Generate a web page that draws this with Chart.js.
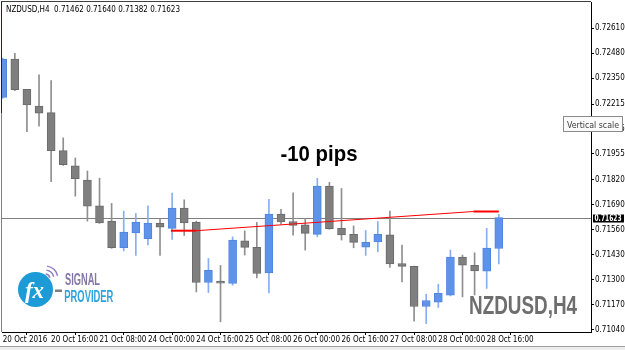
<!DOCTYPE html>
<html>
<head>
<meta charset="utf-8">
<script src="https://cdn.jsdelivr.net/npm/chart.js@4.4.0/dist/chart.umd.min.js"></script>
<style>
  html, body { margin: 0; padding: 0; background: #fff; }
  #wrap { width: 625px; height: 350px; }
</style>
</head>
<body>
<div id="wrap"><canvas id="chart" width="625" height="350"></canvas></div>
<script>
// NZDUSD H4 candles, 20 Oct 2016 00:00 .. 28 Oct 2016 20:00
const opens = [0.72250, 0.72450, 0.72292, 0.72205, 0.72170, 0.71972, 0.71893, 0.71819, 0.71685, 0.71605,
  0.71466, 0.71544, 0.71513, 0.71594, 0.71567, 0.71673, 0.71598, 0.71285, 0.71292, 0.71280,
  0.71502, 0.71468, 0.71335, 0.71641, 0.71603, 0.71586, 0.71536, 0.71787, 0.71567, 0.71536,
  0.71469, 0.71497, 0.71533, 0.71384, 0.71369, 0.71160, 0.71182, 0.71219, 0.71417, 0.71375,
  0.71344, 0.71462];
const highs = [0.72455, 0.72480, 0.72292, 0.72368, 0.72337, 0.72039, 0.71934, 0.71866, 0.71829, 0.71697,
  0.71657, 0.71645, 0.71685, 0.71615, 0.71751, 0.71716, 0.71605, 0.71410, 0.71374, 0.71523,
  0.71554, 0.71598, 0.71718, 0.71667, 0.71752, 0.71619, 0.71828, 0.71807, 0.71775, 0.71580,
  0.71556, 0.71603, 0.71657, 0.71480, 0.71370, 0.71224, 0.71276, 0.71454, 0.71428, 0.71440,
  0.71567, 0.71640];
const lows = [0.72245, 0.72285, 0.72071, 0.72100, 0.71810, 0.71895, 0.71735, 0.71605, 0.71593, 0.71463,
  0.71450, 0.71426, 0.71481, 0.71426, 0.71509, 0.71530, 0.71236, 0.71233, 0.71080, 0.71271,
  0.71428, 0.71309, 0.71231, 0.71589, 0.71532, 0.71454, 0.71523, 0.71562, 0.71506, 0.71466,
  0.71426, 0.71445, 0.71363, 0.71288, 0.71083, 0.71071, 0.71155, 0.71215, 0.71210, 0.71220,
  0.71254, 0.71382];
const closes = [0.72450, 0.72290, 0.72210, 0.72167, 0.71972, 0.71899, 0.71826, 0.71683, 0.71596, 0.71466,
  0.71548, 0.71598, 0.71594, 0.71574, 0.71673, 0.71596, 0.71285, 0.71349, 0.71281, 0.71506,
  0.71468, 0.71332, 0.71641, 0.71601, 0.71582, 0.71541, 0.71787, 0.71565, 0.71533, 0.71494,
  0.71495, 0.71536, 0.71382, 0.71369, 0.71160, 0.71191, 0.71228, 0.71417, 0.71375, 0.71346,
  0.71464, 0.71623];

// time axis labels, one every 4 bars
const timeLabels = ['20 Oct 2016', '20 Oct 16:00', '21 Oct 08:00', '24 Oct 00:00', '24 Oct 16:00',
  '25 Oct 08:00', '26 Oct 00:00', '26 Oct 16:00', '27 Oct 08:00', '28 Oct 00:00', '28 Oct 16:00'];
const priceTicks = [0.72610, 0.72480, 0.72350, 0.72215, 0.72085, 0.71955, 0.71820, 0.71690,
  0.71560, 0.71430, 0.71300, 0.71170, 0.71040];

// trade: entry / exit marks and the line between them
const entryBars = [13.9, 16];
const exitBars = [38.9, 41];
const entryPrice = 0.71555;
const exitPrice = 0.71655;
const bidPrice = 0.71623;

const smallFont = "'Liberation Sans Narrow', 'DejaVu Sans Condensed', 'Liberation Sans', sans-serif";

const isUp = opens.map((o, i) => closes[i] >= o);
const bodyData = opens.map((o, i) => ({ x: i, y: [o, closes[i]] }));
const wickData = lows.map((l, i) => ({ x: i, y: [l, highs[i]] }));

function fitText(ctx, text, x, y, font, color, w) {
    ctx.save();
    ctx.font = font;
    const m = ctx.measureText(text).width;
    ctx.translate(x, y);
    ctx.scale(w / m, 1);
    ctx.fillStyle = color;
    ctx.fillText(text, 0, 0);
    ctx.restore();
}

const overlayPlugin = {
    id: 'overlay',
    beforeDraw(chart) {
        const { ctx, width, height } = chart;
        ctx.save();
        ctx.fillStyle = '#fff';
        ctx.fillRect(0, 0, width, height);
        ctx.fillStyle = '#ececec';
        ctx.fillRect(0, 347, width, 3);
        ctx.fillStyle = '#a0a0a0';
        ctx.fillRect(0, 346, width, 1);
        ctx.restore();
    },
    beforeDatasetsDraw(chart) {
        const { ctx, chartArea: a, scales: { y } } = chart;
        const py = Math.round(y.getPixelForValue(bidPrice)) + 0.5;
        ctx.save();
        ctx.strokeStyle = '#808080';
        ctx.lineWidth = 1;
        ctx.beginPath();
        ctx.moveTo(a.left, py);
        ctx.lineTo(a.right, py);
        ctx.stroke();
        ctx.restore();
    },
    afterDraw(chart) {
        const { ctx, chartArea: a, scales: { y } } = chart;
        ctx.save();

        // frame top and left
        ctx.fillStyle = '#404040';
        ctx.fillRect(a.left - 1, a.top - 1, a.right - a.left + 1, 1);
        ctx.fillStyle = '#808080';
        ctx.fillRect(a.left - 1, a.top, 1, a.bottom - a.top);
        ctx.fillStyle = '#0a246a';
        ctx.fillRect(a.left - 1, a.top, 1, 111);

        // header
        ctx.font = '8px ' + smallFont;
        ctx.fillStyle = '#000';
        ctx.textBaseline = 'alphabetic';
        ctx.fillText('NZDUSD,H4  0.71462 0.71640 0.71382 0.71623', 6, 11.5);

        // result text
        fitText(ctx, '-10 pips', 280.5, 160.5, 'bold 22px "Liberation Sans", sans-serif', '#000', 77);

        // watermark
        fitText(ctx, 'NZDUSD,H4', 469, 313.5, 'bold 25px "Liberation Sans", sans-serif', '#6e6e6e', 108);

        // logo
        ctx.fillStyle = '#1d9bd7';
        ctx.beginPath();
        ctx.arc(35.5, 289.5, 17.5, 0, Math.PI * 2);
        ctx.fill();
        ctx.fillStyle = '#fff';
        ctx.font = 'bold italic 23px "Liberation Serif", serif';
        ctx.textAlign = 'center';
        ctx.fillText('fx', 34.5, 297.5);
        ctx.textAlign = 'left';
        ctx.strokeStyle = '#8e7cc3';
        ctx.lineWidth = 1.4;
        [5, 9, 13].forEach(r => {
            ctx.beginPath();
            ctx.arc(45, 279, r, -Math.PI * 0.45, -Math.PI * 0.08);
            ctx.stroke();
        });
        ctx.fillStyle = '#7d7d7d';
        ctx.fillRect(55, 289.5, 7, 2.5);
        fitText(ctx, 'SIGNAL', 65, 285, 'bold 16px "Liberation Sans", sans-serif', '#8576a8', 35);
        fitText(ctx, 'PROVIDER', 64.3, 302, 'bold 16px "Liberation Sans", sans-serif', '#2ba3dd', 49);

        // bid price label on the axis
        const py = Math.round(y.getPixelForValue(bidPrice)) + 0.5;
        ctx.fillStyle = '#000';
        ctx.fillRect(a.right + 2, py - 4, 31, 8);
        ctx.textBaseline = 'middle';
        fitText(ctx, bidPrice.toFixed(5), a.right + 3.5, py, 'bold 8px ' + smallFont, '#fff', 27);

        // tooltip
        ctx.fillStyle = '#fafafa';
        ctx.fillRect(563.5, 116.5, 59, 15);
        ctx.strokeStyle = '#8a8a8a';
        ctx.lineWidth = 1;
        ctx.strokeRect(563.5, 116.5, 59, 15);
        ctx.textBaseline = 'alphabetic';
        fitText(ctx, 'Vertical scale', 567, 127.5, '9px ' + smallFont, '#3a3a3a', 52);

        ctx.restore();
    }
};

new Chart(document.getElementById('chart'), {
    type: 'bar',
    data: {
        datasets: [
            {
                type: 'line',
                data: [{ x: entryBars[1], y: entryPrice }, { x: exitBars[0], y: exitPrice }],
                borderColor: '#ff0000',
                borderWidth: 1,
                pointRadius: 0,
                order: 0,
                clip: 0
            },
            {
                type: 'line',
                data: entryBars.map(x => ({ x, y: entryPrice })),
                borderColor: '#ff0000',
                borderWidth: 2,
                pointRadius: 0,
                order: 0,
                clip: 0
            },
            {
                type: 'line',
                data: exitBars.map(x => ({ x, y: exitPrice })),
                borderColor: '#ff0000',
                borderWidth: 2,
                pointRadius: 0,
                order: 0,
                clip: 0
            },
            {
                data: bodyData,
                backgroundColor: isUp.map(u => u ? '#5f93ea' : '#7f7f7f'),
                borderColor: isUp.map(u => u ? '#4f84e0' : '#6a6a6a'),
                borderWidth: 1,
                borderSkipped: false,
                barThickness: 8,
                grouped: false,
                order: 1,
                clip: 0
            },
            {
                data: wickData,
                backgroundColor: isUp.map(u => u ? '#86aef2' : '#8f8f8f'),
                borderWidth: 0,
                barThickness: 1,
                grouped: false,
                order: 2,
                clip: 0
            }
        ]
    },
    options: {
        responsive: false,
        animation: false,
        devicePixelRatio: 1,
        layout: { padding: { top: 2, left: 2, right: 0, bottom: 0 } },
        plugins: {
            legend: { display: false },
            tooltip: { enabled: false }
        },
        scales: {
            x: {
                type: 'linear',
                min: -0.06,
                max: 48.62,
                offset: false,
                afterBuildTicks: (scale) => {
                    scale.ticks = timeLabels.map((_, i) => ({ value: i * 4 }));
                },
                afterFit: (scale) => {
                    scale.height = 18;
                    scale.paddingLeft = 0;
                    scale.paddingRight = 0;
                },
                ticks: {
                    autoSkip: false,
                    maxRotation: 0,
                    align: 'start',
                    padding: 0,
                    color: '#000',
                    font: { family: smallFont, size: 8 },
                    callback: (v) => timeLabels[Math.round(v / 4)]
                },
                grid: { drawOnChartArea: false, drawTicks: true, tickLength: 3, color: '#000' },
                border: { display: true, color: '#000' }
            },
            y: {
                position: 'right',
                min: 0.71027,
                max: 0.72747,
                afterBuildTicks: (scale) => {
                    scale.ticks = priceTicks.map(v => ({ value: v }));
                },
                afterFit: (scale) => {
                    scale.width = 34;
                    scale.paddingTop = 0;
                    scale.paddingBottom = 0;
                },
                ticks: {
                    padding: 1,
                    color: '#000',
                    font: { family: smallFont, size: 8 },
                    callback: (v) => v.toFixed(5)
                },
                grid: { drawOnChartArea: false, drawTicks: true, tickLength: 3, color: '#000' },
                border: { display: true, color: '#000' }
            }
        }
    },
    plugins: [overlayPlugin]
});
</script>
</body>
</html>
